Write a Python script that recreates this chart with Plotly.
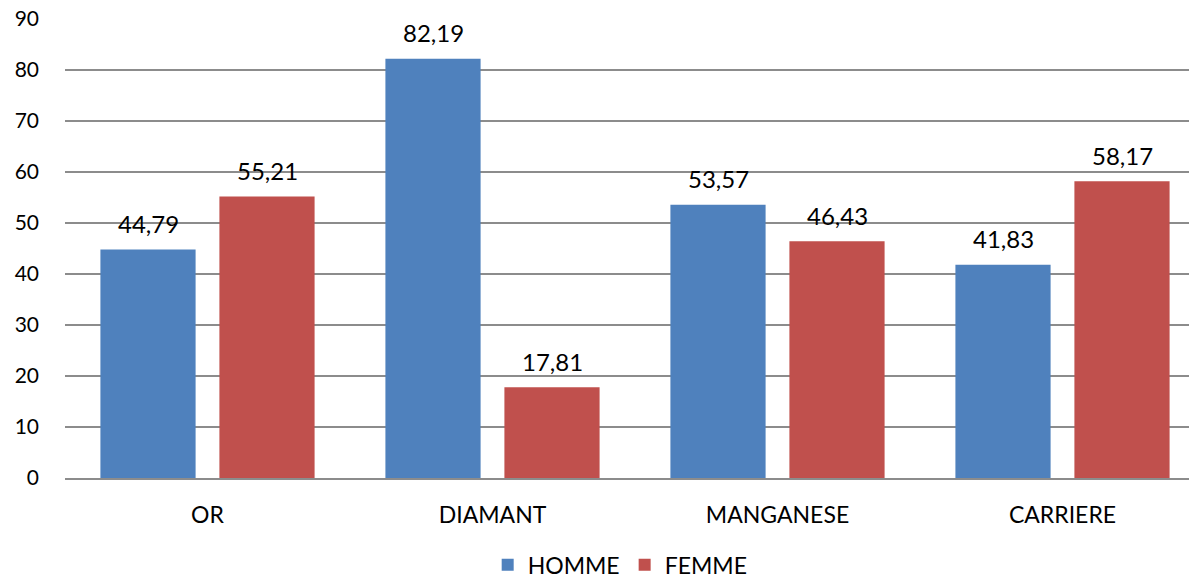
import plotly.graph_objects as go

categories = ["OR", "DIAMANT", "MANGANESE", "CARRIERE"]
homme = [44.79, 82.19, 53.57, 41.83]
femme = [55.21, 17.81, 46.43, 58.17]
homme_labels = ["44,79", "82,19", "53,57", "41,83"]
femme_labels = ["55,21", "17,81", "46,43", "58,17"]

fam = "Lato, Open Sans, Liberation Sans, sans-serif"
label_font = dict(family=fam, size=24, color="#000000")
xtick_font = dict(family=fam, size=23, color="#000000")
ytick_font = dict(family=fam, size=21, color="#000000")
legend_font = dict(family=fam, size=23, color="#000000")

fig = go.Figure()
fig.add_trace(go.Bar(name="HOMME", x=categories, y=homme, marker_color="#4F81BD", marker_line_width=0))
fig.add_trace(go.Bar(name="FEMME", x=categories, y=femme, marker_color="#C0504D", marker_line_width=0))

for cat, v, lab in zip(categories, homme, homme_labels):
    fig.add_annotation(x=cat, y=v, text=lab, showarrow=False, xshift=-59.5, yshift=26,
                       font=label_font, xref="x", yref="y")
for cat, v, lab in zip(categories, femme, femme_labels):
    fig.add_annotation(x=cat, y=v, text=lab, showarrow=False, xshift=59.5, yshift=26,
                       font=label_font, xref="x", yref="y")

fig.update_layout(
    width=1205, height=579,
    margin=dict(l=65, r=0, t=19, b=101, autoexpand=False),
    paper_bgcolor="white", plot_bgcolor="white",
    barmode="group", bargap=0.165, bargroupgap=0.2,
    font=label_font,
    showlegend=True,
    legend=dict(orientation="h", x=0.487, xanchor="center", y=-0.189, yanchor="middle",
                font=legend_font, traceorder="normal", itemwidth=30),
)
fig.update_yaxes(range=[0, 90], dtick=10, showgrid=True, gridcolor="#8C8C8C", gridwidth=1.5,
                 zeroline=False, showline=False, ticks="", ticklabelstandoff=25, tickfont=ytick_font,
                 automargin=False)
fig.update_xaxes(showline=True, linecolor="#8C8C8C", linewidth=1.5, ticks="", tickfont=xtick_font,
                 ticklabelstandoff=16, automargin=False)

fig.write_html("out.html", config={"displayModeBar": False},
               post_script="document.body.style.margin='0';document.body.style.overflow='hidden';")
